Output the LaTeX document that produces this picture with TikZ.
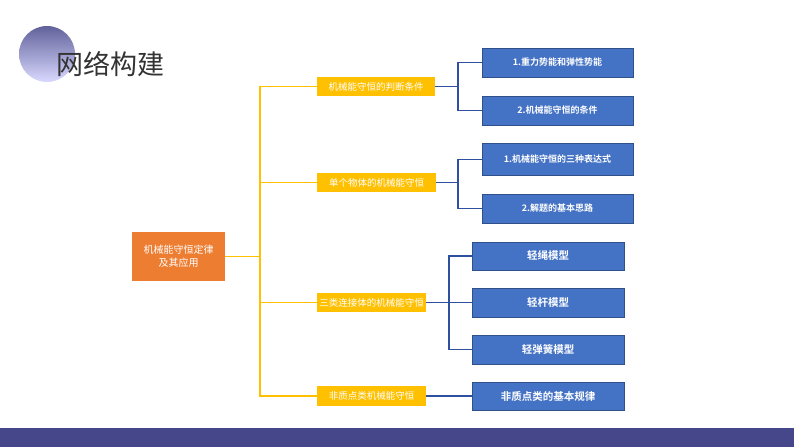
\documentclass[tikz,border=0pt]{standalone}
\usepackage{fontspec}
\setmainfont{Noto Sans CJK SC}
\newfontfamily\cjk{Noto Sans CJK SC}
\newfontfamily\cjkb{Noto Sans CJK SC Bold}
\begin{document}
\begin{tikzpicture}[x=1pt,y=-1pt,
  ybox/.style={fill=yel,text=white,inner sep=0,font=\cjk\fontsize{9.5}{10}\selectfont,anchor=center},
  bbox/.style={fill=blu,text=white,draw=blu!70!black,line width=0.3pt,inner sep=0,font=\cjkb\fontsize{9}{10}\selectfont},
  yl/.style={draw=yel,line width=1.2pt},
  bl/.style={draw=bln,line width=1.2pt}]
\definecolor{yel}{HTML}{FFC000}
\definecolor{blu}{HTML}{4472C4}
\definecolor{bln}{HTML}{2F4F9F}
\definecolor{org}{HTML}{ED7D31}
\definecolor{bar}{HTML}{46468A}
\useasboundingbox (0,0) rectangle (794,447);
\fill[white] (0,0) rectangle (794,447);
\fill[bar] (0,428) rectangle (794,447);
\shade[top color=bar!85, bottom color=blue!15!white] (47,54) circle (28);
\node[anchor=west,font=\cjk\fontsize{27}{30}\selectfont,text=black!80] (title) at (53,64) {网络构建};
% root
\node[fill=org,text=white,minimum width=93,minimum height=49,inner sep=0,align=center,font=\cjk\fontsize{10}{13}\selectfont] (root) at (178.5,256.5) {机械能守恒定律\\及其应用};
% yellow
\node[ybox,minimum width=118,minimum height=19] (y1) at (376,86.5) {机械能守恒的判断条件};
\node[ybox,minimum width=119,minimum height=19] (y2) at (376.5,182.5) {单个物体的机械能守恒};
\node[ybox,minimum width=109,minimum height=19] (y3) at (371.5,302.5) {三类连接体的机械能守恒};
\node[ybox,minimum width=109,minimum height=20] (y4) at (371.5,396) {非质点类机械能守恒};
\coordinate (t) at (260,256.5);
\draw[yl] (root.east) -- (t);
\foreach \n in {y1,y2,y3,y4} \draw[yl] (t) |- (\n.west);
% blue
\node[bbox,minimum width=151,minimum height=29] (b1) at (557.5,62.5) {1.重力势能和弹性势能};
\node[bbox,minimum width=151,minimum height=29] (b2) at (557.5,110.5) {2.机械能守恒的条件};
\node[bbox,minimum width=151,minimum height=32] (b3) at (557.5,159.5) {1.机械能守恒的三种表达式};
\node[bbox,minimum width=151,minimum height=29] (b4) at (557.5,208.5) {2.解题的基本思路};
\node[bbox,minimum width=152,minimum height=28,font=\cjkb\fontsize{10.5}{12}\selectfont] (b5) at (548,256) {轻绳模型};
\node[bbox,minimum width=152,minimum height=29,font=\cjkb\fontsize{10.5}{12}\selectfont] (b6) at (548,302.5) {轻杆模型};
\node[bbox,minimum width=152,minimum height=29,font=\cjkb\fontsize{10.5}{12}\selectfont] (b7) at (548,349.5) {轻弹簧模型};
\node[bbox,minimum width=152,minimum height=28,font=\cjkb\fontsize{10.5}{12}\selectfont] (b8) at (548,396) {非质点类的基本规律};
\coordinate (c1) at (458,86.5);
\coordinate (c2) at (458,182.5);
\coordinate (c3) at (449,302.5);
\draw[bl] (y1.east) -- (c1); \draw[bl] (c1) |- (b1.west); \draw[bl] (c1) |- (b2.west);
\draw[bl] (y2.east) -- (c2); \draw[bl] (c2) |- (b3.west); \draw[bl] (c2) |- (b4.west);
\draw[bl] (y3.east) -- (b6.west); \draw[bl] (c3) |- (b5.west); \draw[bl] (c3) |- (b7.west);
\draw[bl] (y4.east) -- (b8.west);
\end{tikzpicture}
\end{document}
